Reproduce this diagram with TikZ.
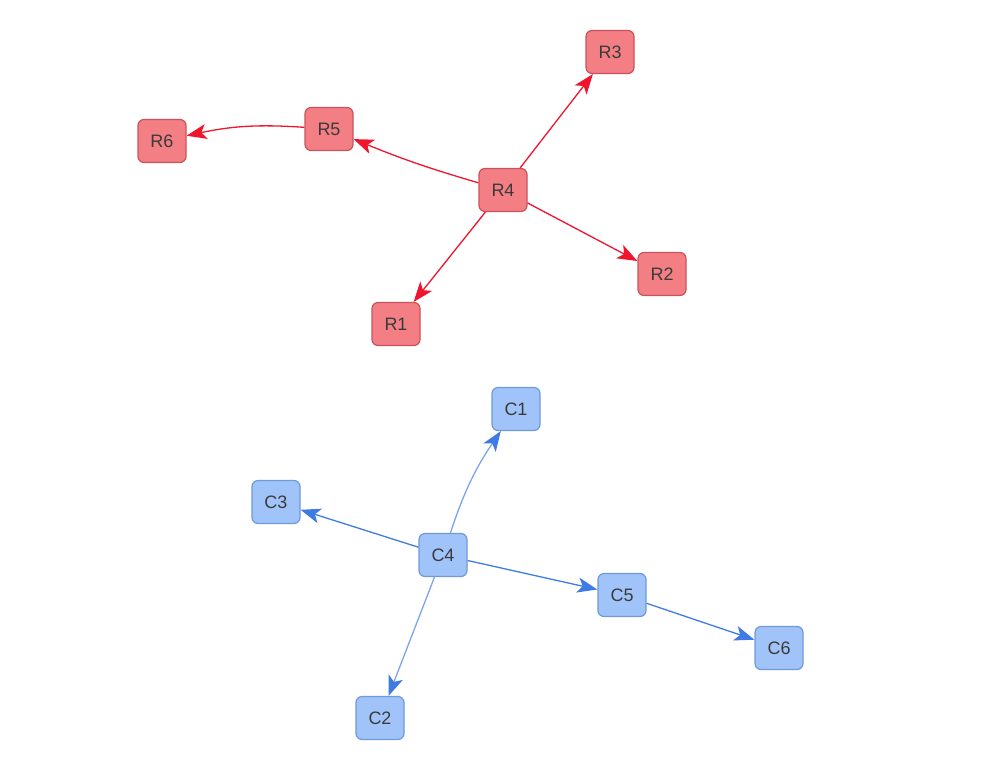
\documentclass[tikz,border=0pt]{standalone}
\usepackage{fontspec}
\setmainfont{Liberation Sans}
\usetikzlibrary{arrows.meta}
\definecolor{rfill}{HTML}{F37F85}
\definecolor{rdraw}{HTML}{C9535C}
\definecolor{redge}{HTML}{F0142C}
\definecolor{bfill}{HTML}{A0C4FA}
\definecolor{bdraw}{HTML}{6E9AD8}
\definecolor{bedge}{HTML}{3F7BE3}
\definecolor{bedgelight}{HTML}{7BA6EE}
\definecolor{txt}{HTML}{3A3A3A}
\tikzset{
  rnode/.style={draw=rdraw, fill=rfill, line width=1.2pt, rounded corners=6pt, minimum width=48pt, minimum height=43pt, inner sep=0pt, text=txt, font=\fontsize{18pt}{20pt}\selectfont},
  bnode/.style={draw=bdraw, fill=bfill, line width=1.2pt, rounded corners=6pt, minimum width=48pt, minimum height=43pt, inner sep=0pt, text=txt, font=\fontsize{18pt}{20pt}\selectfont},
  redgest/.style={-{Stealth[length=20pt,width=15pt,inset=5pt,fill=redge]}, draw=redge, line width=1.3pt},
  bedgest/.style={-{Stealth[length=20pt,width=15pt,inset=5pt,fill=bedge]}, draw=bedge, line width=1.3pt},
  bedgelt/.style={-{Stealth[length=20pt,width=15pt,inset=5pt,fill=bedge,color=bedge]}, draw=bedgelight, line width=1.3pt},
}
\begin{document}
\begin{tikzpicture}[x=1pt,y=-1pt]
\useasboundingbox (0,0) rectangle (992,779);
\node[rnode] (R3) at (610,52) {R3};
\node[rnode] (R5) at (329,129) {R5};
\node[rnode] (R6) at (162,141) {R6};
\node[rnode] (R4) at (503,190) {R4};
\node[rnode] (R2) at (662,274) {R2};
\node[rnode] (R1) at (396,324) {R1};
\node[bnode] (C1) at (516,409) {C1};
\node[bnode] (C3) at (276,502) {C3};
\node[bnode] (C4) at (443,555) {C4};
\node[bnode] (C5) at (622,595) {C5};
\node[bnode] (C6) at (779,648) {C6};
\node[bnode] (C2) at (380,718) {C2};
\draw[redgest] (R4) to[bend left=3] (R5);
\draw[redgest] (R5) to[bend right=8] (R6);
\draw[redgest] (R4) -- (R3);
\draw[redgest] (R4) -- (R2);
\draw[redgest] (R4) -- (R1);
\draw[bedgelt] (C4) to[bend left=8] (C1);
\draw[bedgest] (C4) -- (C3);
\draw[bedgest] (C4) -- (C5);
\draw[bedgest] (C5) -- (C6);
\draw[bedgelt] (C4) -- (C2);
\end{tikzpicture}
\end{document}
